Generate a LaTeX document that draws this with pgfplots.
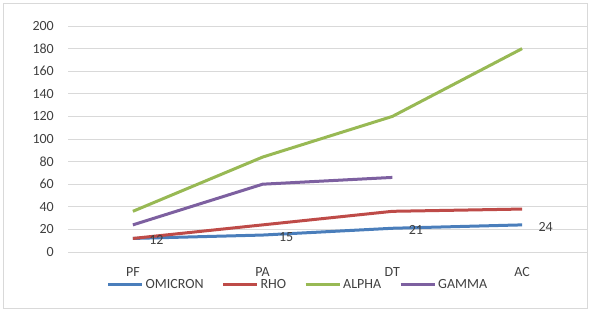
\documentclass[border=0pt]{standalone}
\usepackage{pgfplots}
\pgfplotsset{compat=1.18}
\usepackage{fontspec}
\setmainfont{Carlito}
\definecolor{txt}{HTML}{404040}
\definecolor{grid}{HTML}{D9D9D9}
\definecolor{cB}{HTML}{4A7EBB}
\definecolor{cR}{HTML}{BE4B48}
\definecolor{cG}{HTML}{98B954}
\definecolor{cP}{HTML}{7D60A0}
\begin{document}
\begin{tikzpicture}[x=1pt,y=1pt]
\path (0,0) rectangle (593,313);
\draw[draw=grid, line width=0.8pt] (3.5,4.5) rectangle (587,310);
\begin{axis}[
  at={(68pt,61pt)}, anchor=south west,
  scale only axis, width=519pt, height=226pt,
  xmin=-0.5, xmax=3.5, ymin=0, ymax=200,
  xtick={0,1,2,3}, xticklabels={PF,PA,DT,AC},
  ytick={0,20,...,200},
  ymajorgrids, grid style={draw=grid, line width=0.8pt},
  axis line style={draw=none}, tick style={draw=none},
  /pgf/number format/assume math mode=true,
  font=\fontsize{14}{16}\selectfont,
  every tick label/.append style={text=txt, font=\fontsize{14}{16}\selectfont},
  xticklabel style={inner sep=0pt, yshift=-15pt},
  yticklabel style={inner sep=0pt, xshift=-14pt},
  legend columns=4,
  legend style={draw=none, fill=none, at={(axis description cs:0.443,-0.146)}, anchor=center,
    font=\fontsize{14}{16}\selectfont, text=txt, inner sep=0pt,
    /tikz/every even column/.append style={column sep=16pt}},
  legend image code/.code={\draw[#1, line width=3pt] (0pt,0pt) -- (34pt,0pt);},
  legend cell align=left,
  every axis plot/.append style={line width=3pt},
]
\addplot[cB, mark=none, nodes near coords, point meta=explicit symbolic,
  every node near coord/.append style={anchor=west, inner sep=0pt, xshift=15pt, yshift=-2pt, text=txt, font=\fontsize{14}{16}\selectfont}]
  coordinates {(0,12)[12] (1,15)[15] (2,21)[21] (3,24)[24]};
\addlegendentry{OMICRON}
\addplot[cR, mark=none] coordinates {(0,12) (1,24) (2,36) (3,38)};
\addlegendentry{RHO}
\addplot[cG, mark=none] coordinates {(0,36) (1,84) (2,120) (3,180)};
\addlegendentry{ALPHA}
\addplot[cP, mark=none] coordinates {(0,24) (1,60) (2,66)};
\addlegendentry{GAMMA}
\end{axis}
\end{tikzpicture}
\end{document}
